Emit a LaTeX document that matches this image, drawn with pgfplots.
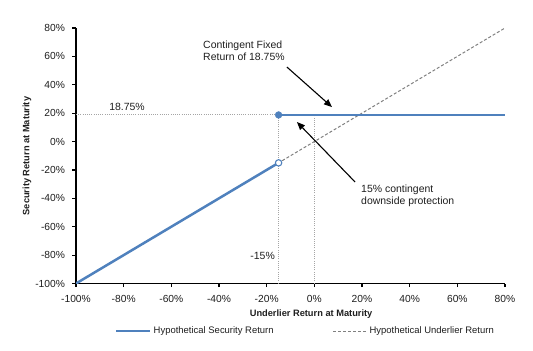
\documentclass[border=0pt]{standalone}
\usepackage{fontspec}
\setmainfont{Liberation Sans}
\usepackage{pgfplots}
\pgfplotsset{compat=1.18}
\usetikzlibrary{arrows.meta}
\definecolor{serblue}{RGB}{79,129,189}
\definecolor{dashgray}{RGB}{128,128,128}
\definecolor{dotgray}{RGB}{165,165,165}
\definecolor{txt}{RGB}{30,30,30}
\begin{document}
\begin{tikzpicture}
\path[use as bounding box] (-76bp,-67.5bp) rectangle (457bp,283.5bp);
\begin{axis}[
  at={(0,0)}, anchor=south west,
  scale only axis, width=429bp, height=255.5bp,
  xmin=-100, xmax=80, ymin=-100, ymax=80,
  axis lines*=left,
  axis line style={line width=1.7bp, black},
  xtick={-100,-80,...,80}, ytick={-100,-80,...,80},
  tick style={black, line width=1.2bp},
  major tick length=3.5bp, tick align=outside,
  xticklabel={\pgfmathprintnumber[assume math mode=true]{\tick}\%},
  yticklabel={\pgfmathprintnumber[assume math mode=true]{\tick}\%},
  ticklabel style={font=\fontsize{10.3}{12}\selectfont, text=txt},
  yticklabel style={xshift=-4bp},
  xticklabel style={yshift=-4.5bp},
  xlabel={Underlier Return at Maturity},
  ylabel={Security Return at Maturity},
  xlabel style={at={(0.548,-0.119)}, anchor=center, font=\bfseries\fontsize{9.3}{11}\selectfont, text=txt},
  ylabel style={at={(-0.114,0.499)}, anchor=center, font=\bfseries\fontsize{9.3}{11}\selectfont, text=txt},
  legend style={at={(0.535,-0.186)}, anchor=center, draw=none, fill=none,
    font=\fontsize{9.5}{11}\selectfont, text=txt,
    /tikz/every even column/.append style={column sep=57bp}},
  legend columns=2,
  legend cell align=left,
  legend image code/.code={\draw[#1] (0bp,0bp) -- (34bp,0bp);},
]
\addlegendimage{serblue, line width=2.5bp}
\addlegendentry{Hypothetical Security Return}
\addlegendimage{dashgray, line width=1bp, dash pattern=on 3bp off 2bp}
\addlegendentry{Hypothetical Underlier Return}
% dotted guides
\addplot[forget plot, dotgray, line width=0.9bp, dash pattern=on 1bp off 1.2bp] coordinates {(-100,18.75) (-15,18.75)};
\addplot[forget plot, dotgray, line width=0.9bp, dash pattern=on 1bp off 1.2bp] coordinates {(-15,-100) (-15,18.75)};
\addplot[forget plot, dotgray, line width=0.9bp, dash pattern=on 1bp off 1.2bp] coordinates {(0,-100) (0,18.75)};
% underlier
\addplot[forget plot, dashgray, line width=1bp, dash pattern=on 3bp off 2bp] coordinates {(-100,-100) (80,80)};
% security
\addplot[forget plot, serblue, line width=2.5bp] coordinates {(-100,-100) (-15,-15)};
\addplot[forget plot, serblue, line width=2.5bp] coordinates {(-15,18.75) (80,18.75)};
\addplot[forget plot, only marks, mark=*, mark size=3.4bp, mark options={fill=serblue, draw=serblue}] coordinates {(-15,18.75)};
\addplot[forget plot, only marks, mark=*, mark size=3.2bp, mark options={fill=white, draw=serblue, line width=1.1bp}] coordinates {(-15,-15)};
% annotations
\node[anchor=west, inner sep=0, align=left, text=txt, font=\fontsize{10.5}{12}\selectfont] at (axis cs:-46.7,63.8) {Contingent Fixed\\Return of 18.75\%};
\node[anchor=west, inner sep=0, align=left, text=txt, font=\fontsize{10.5}{12.5}\selectfont] at (axis cs:19.6,-38.4) {15\% contingent\\downside protection};
\node[anchor=center, inner sep=0, text=txt, font=\fontsize{10.5}{12}\selectfont] at (axis cs:-78.6,24.3) {18.75\%};
\node[anchor=east, inner sep=0, text=txt, font=\fontsize{10.5}{12}\selectfont] at (axis cs:-16.5,-80.7) {-15\%};
\draw[-{Triangle[length=8bp,width=6.5bp]}, line width=1.1bp, black] (axis cs:-11.5,52.5) -- (axis cs:7.4,24.3);
\draw[-{Triangle[length=8bp,width=6.5bp]}, line width=1.1bp, black] (axis cs:17.1,-28.5) -- (axis cs:-7.3,13.8);
\end{axis}
\end{tikzpicture}
\end{document}
